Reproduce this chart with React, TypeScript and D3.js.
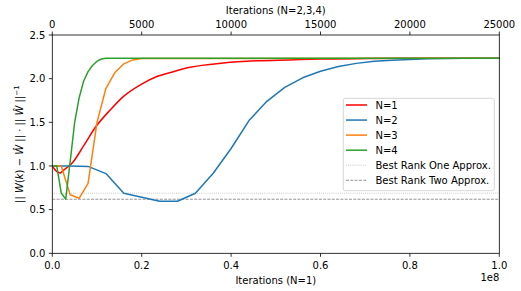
import React from "react";
import * as d3 from "d3";

const redIters = [0, 1e6, 1.7e6, 2.6e6, 4.4e6, 7e6, 9.6e6, 13e6, 16e6, 19.7e6, 23.4e6, 27.1e6, 30.8e6, 38.3e6, 45.8e6, 53e6, 60e6, 70e6, 80e6, 100e6];
const redVals = [1.0, 0.935, 0.92, 0.955, 1.03, 1.23, 1.44, 1.644, 1.8, 1.93, 2.025, 2.08, 2.13, 2.18, 2.205, 2.215, 2.225, 2.23, 2.233, 2.235];

const blueIters = [0, 1000, 2000, 3000, 4000, 5000, 6000, 7000, 8000, 9000, 10000, 11000, 12000, 13000, 14000, 15000, 16000, 17000, 18000, 19000, 20000, 21000, 22000, 23000, 24000, 25000];
const blueVals = [1.0, 1.0, 0.995, 0.913, 0.688, 0.642, 0.596, 0.596, 0.688, 0.917, 1.2, 1.52, 1.74, 1.9, 2.01, 2.085, 2.14, 2.175, 2.2, 2.21, 2.22, 2.227, 2.231, 2.233, 2.234, 2.235];

const orangeIters = [0, 500, 1000, 1500, 2000, 2500, 3000, 3500, 4000, 4500, 5000, 25000];
const orangeVals = [1.0, 1.0, 0.67, 0.63, 0.8, 1.5, 1.89, 2.07, 2.17, 2.215, 2.23, 2.235];

const greenIters = [0, 250, 500, 750, 1000, 1250, 1500, 1750, 2000, 2250, 2500, 2750, 3000, 25000];
const greenVals = [1.0, 1.0, 0.69, 0.62, 1.05, 1.5, 1.78, 1.97, 2.08, 2.15, 2.2, 2.225, 2.235, 2.235];

const rankOne = 0.688;
const rankTwo = 0.619;

const bottomTicks = [0, 0.2e8, 0.4e8, 0.6e8, 0.8e8, 1e8];
const topTicks = [0, 5000, 10000, 15000, 20000, 25000];
const yTicks = [0, 0.5, 1.0, 1.5, 2.0, 2.5];

const legendLabels = ["N=1", "N=2", "N=3", "N=4", "Best Rank One Approx.", "Best Rank Two Approx."];

const W = 521, H = 291;
const L = 52.3, R = 499.3, T = 35, B = 253.3;
const font = "DejaVu Sans, sans-serif";

export default function App() {
  const xb = d3.scaleLinear().domain([0, 1e8]).range([L, R]);
  const xt = d3.scaleLinear().domain([0, 25000]).range([L, R]);
  const y = d3.scaleLinear().domain([0, 2.5]).range([B, T]);

  const mk = (xs: number[], vs: number[], sx: d3.ScaleLinear<number, number>, curve: any) =>
    d3.line<number>().x((_, i) => sx(xs[i])).y((v) => y(v)).curve(curve)(vs) || "";

  const series = [
    { d: mk(redIters, redVals, xb, d3.curveMonotoneX), c: "#ff0000" },
    { d: mk(blueIters, blueVals, xt, d3.curveLinear), c: "#1f77b4" },
    { d: mk(orangeIters, orangeVals, xt, d3.curveLinear), c: "#ff7f0e" },
    { d: mk(greenIters, greenVals, xt, d3.curveLinear), c: "#2ca02c" },
  ];

  const legX = 343.3, legY = 98.3, legW = 151, legH = 92.4;
  const rowY = (i: number) => 105 + i * 15.06;

  return (
    <svg width={W} height={H} style={{ position: "absolute", left: 0, top: 0 }} fontFamily={font}>
      <rect x={0} y={0} width={W} height={H} fill="#fff" />
      <defs>
        <clipPath id="clip">
          <rect x={L} y={T} width={R - L} height={B - T} />
        </clipPath>
      </defs>
      <g clipPath="url(#clip)">
        <line x1={L} x2={R} y1={y(rankOne)} y2={y(rankOne)} stroke="#aaaaaa" strokeWidth={0.8} strokeDasharray="0.8,1.3" />
        <line x1={L} x2={R} y1={y(rankTwo)} y2={y(rankTwo)} stroke="#777777" strokeWidth={0.8} strokeDasharray="3,1.3" />
        {series.map((s, i) => (
          <path key={i} d={s.d} fill="none" stroke={s.c} strokeWidth={1.5} strokeLinejoin="round" strokeLinecap="square" />
        ))}
      </g>
      {/* spines */}
      <rect x={L} y={T} width={R - L} height={B - T} fill="none" stroke="#000" strokeWidth={0.8} />
      {/* bottom ticks */}
      {bottomTicks.map((t) => (
        <g key={"b" + t}>
          <line x1={xb(t)} x2={xb(t)} y1={B} y2={B + 3.5} stroke="#000" strokeWidth={0.8} />
          <text x={xb(t)} y={B + 15.5} fontSize={10} textAnchor="middle">{(t / 1e8).toFixed(1)}</text>
        </g>
      ))}
      {topTicks.map((t) => (
        <g key={"t" + t}>
          <line x1={xt(t)} x2={xt(t)} y1={T} y2={T - 3.5} stroke="#000" strokeWidth={0.8} />
          <text x={xt(t)} y={T - 7.5} fontSize={10} textAnchor="middle">{t}</text>
        </g>
      ))}
      {yTicks.map((t) => (
        <g key={"y" + t}>
          <line x1={L} x2={L - 3.5} y1={y(t)} y2={y(t)} stroke="#000" strokeWidth={0.8} />
          <text x={L - 7} y={y(t) + 3.6} fontSize={10} textAnchor="end">{t.toFixed(1)}</text>
        </g>
      ))}
      <text x={(L + R) / 2} y={283.5} fontSize={10} textAnchor="middle">Iterations (N=1)</text>
      <text x={R} y={281} fontSize={10} textAnchor="end">1e8</text>
      <text x={(L + R) / 2} y={13.5} fontSize={10} textAnchor="middle">Iterations (N=2,3,4)</text>
      <text transform={`translate(22.5,${(T + B) / 2}) rotate(-90)`} fontSize={10} textAnchor="middle">
        <tspan>|| </tspan>
        <tspan fontStyle="italic">W</tspan>
        <tspan>(</tspan>
        <tspan fontStyle="italic">k</tspan>
        <tspan>) − </tspan>
        <tspan fontStyle="italic">Ŵ</tspan>
        <tspan> || · || </tspan>
        <tspan fontStyle="italic">Ŵ</tspan>
        <tspan> ||</tspan>
        <tspan fontSize={7} dy={-4}>−1</tspan>
      </text>
      {/* legend */}
      <rect x={legX} y={legY} width={legW} height={legH} rx={2} fill="#fff" fillOpacity={0.8} stroke="#cccccc" strokeWidth={0.8} />
      {legendLabels.map((lab, i) => {
        const yy = rowY(i);
        let line;
        if (i < 4) {
          line = <line x1={346} x2={367} y1={yy} y2={yy} stroke={series[i].c} strokeWidth={1.5} />;
        } else if (i === 4) {
          line = <line x1={346} x2={367} y1={yy} y2={yy} stroke="#aaaaaa" strokeWidth={0.8} strokeDasharray="0.8,1.3" />;
        } else {
          line = <line x1={346} x2={367} y1={yy} y2={yy} stroke="#777777" strokeWidth={0.8} strokeDasharray="3,1.3" />;
        }
        return (
          <g key={lab}>
            {line}
            <text x={375.5} y={yy + 3.6} fontSize={10}>{lab}</text>
          </g>
        );
      })}
    </svg>
  );
}
